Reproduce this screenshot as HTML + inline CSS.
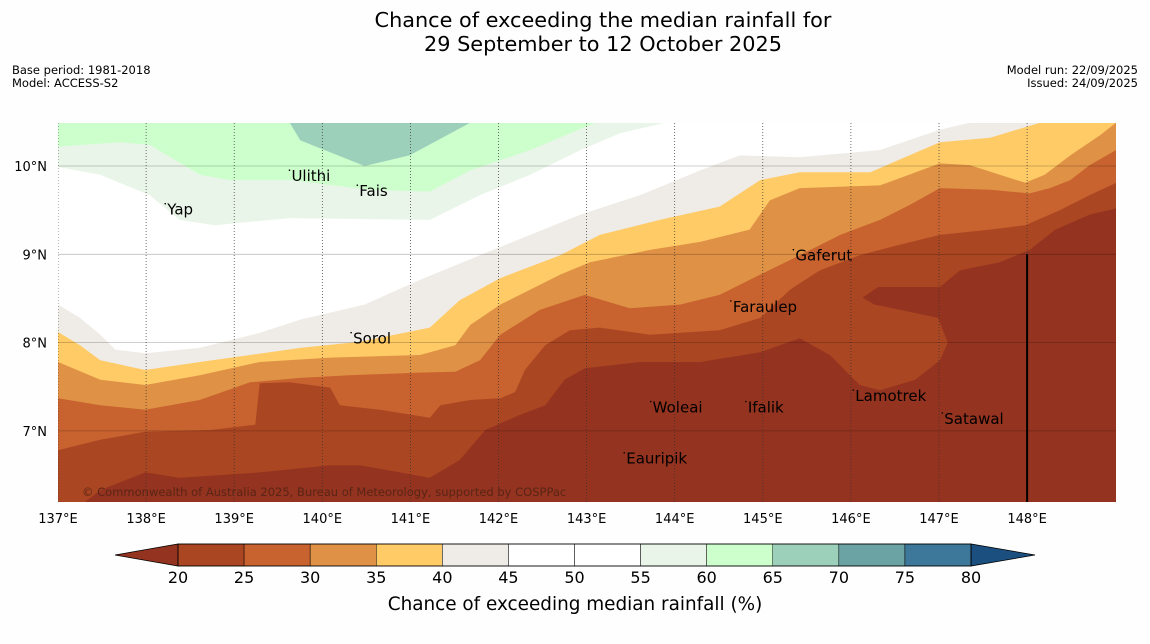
<!DOCTYPE html>
<html><head><meta charset="utf-8">
<style>
body{margin:0;background:#fefefe;font-family:"DejaVu Sans","Liberation Sans",sans-serif;}
#wrap{position:relative;width:1150px;height:644px;overflow:hidden;}
.t{position:absolute;white-space:nowrap;color:#000;}
</style></head>
<body>
<div id="wrap">
<div class="t" style="left:56px;width:1094px;top:8px;text-align:center;font-size:20.8px;line-height:24px;">Chance of exceeding the median rainfall for<br>29 September to 12 October 2025</div>
<div class="t" style="left:12px;top:64px;font-size:11.5px;line-height:13px;">Base period: 1981-2018<br>Model: ACCESS-S2</div>
<div class="t" style="right:12px;top:64px;font-size:11.5px;line-height:13px;text-align:right;">Model run: 22/09/2025<br>Issued: 24/09/2025</div>
<svg id="svg" width="1150" height="644" style="position:absolute;left:0;top:0"></svg>
</div>
<script>
const levels=[20,25,30,35,40,45,50,55,60,65,70,75,80];
const barColors=["#ab4622","#c8622f","#df9145","#fecb66","#efebe6","#ffffff","#ffffff","#e9f5e8","#ccffcc","#9dd0bb","#6ba3a5","#3d7799"];
const lowColor="#94331f", highColor="#1a4f80";
const lonTicks=[137,138,139,140,141,142,143,144,145,146,147,148];
const latTicks=[10,9,8,7];
const bGreen55=[[137,9.99],[137.48,9.90],[138.04,9.67],[138.38,9.39],[138.78,9.33],[139.63,9.41],[141.22,9.39],[141.79,9.67],[142.36,9.90],[142.93,10.18],[143.38,10.37],[143.89,10.49]];
const bGreen60=[[137,10.22],[137.70,10.27],[138.04,10.24],[138.61,9.90],[138.95,9.84],[139.63,9.84],[140.54,9.73],[141.22,9.71],[141.68,9.95],[142.36,10.18],[143.10,10.49]];
const bGreen65=[[139.63,10.49],[139.75,10.29],[140.48,10.00],[140.99,10.12],[141.68,10.49]];
const b45=[[137,8.43],[137.25,8.28],[137.48,8.09],[137.65,7.92],[137.99,7.88],[138.61,7.94],[139.29,8.11],[139.75,8.26],[140.48,8.43],[141.11,8.71],[141.79,8.99],[142.36,9.22],[142.93,9.45],[143.61,9.67],[144.29,9.95],[144.74,10.12],[145.42,10.10],[146.33,10.18],[147.01,10.41],[147.35,10.49],[149.01,10.49]];
const b40=[[137,8.12],[137.25,7.97],[137.48,7.80],[137.99,7.69],[138.61,7.78],[139.18,7.86],[139.75,7.94],[140.43,8.01],[141.22,8.17],[141.56,8.48],[142.02,8.73],[142.70,8.99],[143.15,9.22],[143.83,9.39],[144.51,9.54],[144.97,9.84],[145.42,9.93],[146.22,9.93],[147.01,10.27],[147.58,10.32],[148.15,10.49],[149.01,10.49]];
const b35=[[137,7.78],[137.48,7.58],[137.99,7.52],[138.61,7.63],[139.29,7.78],[140.09,7.83],[141.11,7.86],[141.51,7.97],[141.68,8.20],[142.02,8.43],[142.70,8.77],[143.04,8.91],[143.72,9.05],[144.29,9.14],[144.85,9.28],[145.08,9.61],[145.42,9.75],[146.33,9.78],[147.01,10.03],[147.35,10.01],[147.69,9.90],[147.98,9.81],[148.20,9.90],[148.49,10.12],[148.83,10.35],[149.01,10.49]];
const b30=[[137,7.37],[137.48,7.29],[137.99,7.24],[138.61,7.35],[139.18,7.55],[139.75,7.60],[140.31,7.63],[141.11,7.66],[141.51,7.67],[141.79,7.80],[142.02,8.09],[142.47,8.37],[142.98,8.54],[143.49,8.39],[144.06,8.43],[144.51,8.54],[144.97,8.77],[145.42,8.99],[145.88,9.22],[146.33,9.39],[146.67,9.56],[147.01,9.75],[147.58,9.73],[148.03,9.69],[148.26,9.75],[148.49,9.84],[148.71,10.01],[149.01,10.18]];
const b25=[[137,6.78],[137.48,6.90],[137.99,6.99],[138.73,7.01],[139.24,7.07],[139.29,7.54],[139.63,7.55],[140.09,7.49],[140.20,7.29],[140.65,7.24],[141.22,7.15],[141.34,7.29],[141.68,7.35],[142.02,7.37],[142.19,7.44],[142.30,7.69],[142.53,7.97],[142.81,8.14],[143.15,8.17],[143.72,8.09],[144.51,8.14],[144.97,8.28],[145.31,8.60],[145.65,8.82],[146.10,8.99],[146.56,9.11],[147.01,9.22],[147.58,9.28],[147.98,9.33],[148.37,9.50],[148.71,9.67],[149.01,9.81]];
const b20=[[137.3,6.19],[137.48,6.33],[137.99,6.53],[138.38,6.47],[139.29,6.53],[140.09,6.61],[140.43,6.61],[141.22,6.47],[141.56,6.67],[141.85,7.01],[142.24,7.18],[142.53,7.29],[142.75,7.58],[142.98,7.71],[143.61,7.78],[144.29,7.78],[144.97,7.89],[145.42,8.05],[145.76,7.86],[146.10,7.52],[146.33,7.46],[146.73,7.58],[147.01,7.80],[147.10,8.00],[146.99,8.28],[146.56,8.37],[146.27,8.43],[146.13,8.51],[146.31,8.63],[147.01,8.63],[147.24,8.82],[147.69,8.91],[148.03,9.05],[148.32,9.28],[148.71,9.45],[149.01,9.52]];
const places=["Yap","Ulithi","Fais","Gaferut","Faraulep","Sorol","Woleai","Ifalik","Lamotrek","Satawal","Eauripik"];
const placeLon=[138.24,139.65,140.42,145.37,144.66,140.35,143.75,144.83,146.05,147.06,143.45];
const placeLat=[9.55,9.93,9.76,9.03,8.45,8.09,7.31,7.31,7.44,7.18,6.73];

const LON0=137,LAT0=10,PX=88.1,PY=88.3,X0=58,Y0=166;
const xs=lon=>X0+(lon-LON0)*PX;
const ys=lat=>Y0-(lat-LAT0)*PY;
const FONT='DejaVu Sans, Liberation Sans, sans-serif';
const svg=document.getElementById('svg');
const NS="http://www.w3.org/2000/svg";
function mk(tag,attrs,parent){const e=document.createElementNS(NS,tag);for(const k in attrs)e.setAttribute(k,attrs[k]);(parent||svg).appendChild(e);return e;}
const clip=mk('clipPath',{id:'mc'});mk('rect',{x:58,y:123,width:1058,height:379},clip);
const g=mk('g',{'clip-path':'url(#mc)'});


const bg=mk('rect',{x:58,y:123,width:1058,height:379,fill:'#ffffff'},g);


function pts(a){return a.map(p=>xs(p[0]).toFixed(1)+','+ys(p[1]).toFixed(1)).join(' ');}
function topPoly(b,color,name){
  const p=mk('polygon',{points:pts(b)+' '+xs(137)+','+ys(10.49),fill:color},g);
  
  
}
function botPoly(b,color,name){
  const p=mk('polygon',{points:pts(b)+' '+xs(149.01)+','+ys(6.19)+' '+xs(137)+','+ys(6.19),fill:color},g);
  
  
}
topPoly(bGreen55,barColors[7],'contour-55-60');
topPoly(bGreen60,barColors[8],'contour-60-65');
const gp=mk('polygon',{points:pts(bGreen65),fill:barColors[9]},g);


botPoly(b45,barColors[4],'contour-40-45');
botPoly(b40,barColors[3],'contour-35-40');
botPoly(b35,barColors[2],'contour-30-35');
botPoly(b30,barColors[1],'contour-25-30');
botPoly(b25,barColors[0],'contour-20-25');
botPoly(b20,lowColor,'contour-below-20');
lonTicks.forEach(l=>{const ln=mk('line',{x1:xs(l),x2:xs(l),y1:123,y2:502,stroke:'#333','stroke-width':0.7,'stroke-dasharray':'1,2'},g);

});
latTicks.forEach(l=>{const ln=mk('line',{x1:58,x2:1116,y1:ys(l),y2:ys(l),stroke:'#000','stroke-opacity':0.25,'stroke-width':0.8},g);

});
const vl=mk('line',{x1:xs(148),x2:xs(148),y1:ys(9),y2:502,stroke:'#000','stroke-width':2},g);


places.forEach((n,i)=>{
  const d=mk('circle',{cx:xs(placeLon[i])-2,cy:ys(placeLat[i])-2,r:0.8,fill:'#000'},g);
  
  
  const t=mk('text',{x:xs(placeLon[i]),y:ys(placeLat[i])+9,'font-size':15,fill:'#000','font-family':FONT},g);
  t.textContent=n;
  
  
});
const cp=mk('text',{x:82,y:496,'font-size':11.5,fill:'#5a2416','font-family':FONT},g);
cp.textContent='© Commonwealth of Australia 2025, Bureau of Meteorology, supported by COSPPac';


lonTicks.forEach(l=>{const t=mk('text',{x:xs(l),y:523,'font-size':13,'text-anchor':'middle','font-family':FONT});
t.textContent=l+'°E';

});
latTicks.forEach(l=>{const t=mk('text',{x:47,y:ys(l)+5,'font-size':13,'text-anchor':'end','font-family':FONT});
t.textContent=l+'°N';

});
const CB0=178,CB1=971,CY=544,CH=22;
const cx=v=>CB0+(v-levels[0])/(levels[levels.length-1]-levels[0])*(CB1-CB0);
const la=mk('polygon',{points:`115,${CY+CH/2} ${CB0},${CY} ${CB0},${CY+CH}`,fill:lowColor,stroke:'#000','stroke-width':0.8});


const ra=mk('polygon',{points:`1035,${CY+CH/2} ${CB1},${CY} ${CB1},${CY+CH}`,fill:highColor,stroke:'#000','stroke-width':0.8});


barColors.forEach((c,i)=>{const r=mk('rect',{x:cx(levels[i]),y:CY,width:cx(levels[i+1])-cx(levels[i]),height:CH,fill:c,stroke:'#000','stroke-width':0.5});

});
const fr=mk('rect',{x:CB0,y:CY,width:CB1-CB0,height:CH,fill:'none',stroke:'#000','stroke-width':0.8});


levels.forEach(v=>{const t=mk('text',{x:cx(v),y:583,'font-size':16,'text-anchor':'middle','font-family':FONT});
t.textContent=v;

});
const ct=mk('text',{x:575,y:610,'font-size':18.4,'text-anchor':'middle','font-family':FONT});
ct.textContent='Chance of exceeding median rainfall (%)';


</script>
</body></html>
